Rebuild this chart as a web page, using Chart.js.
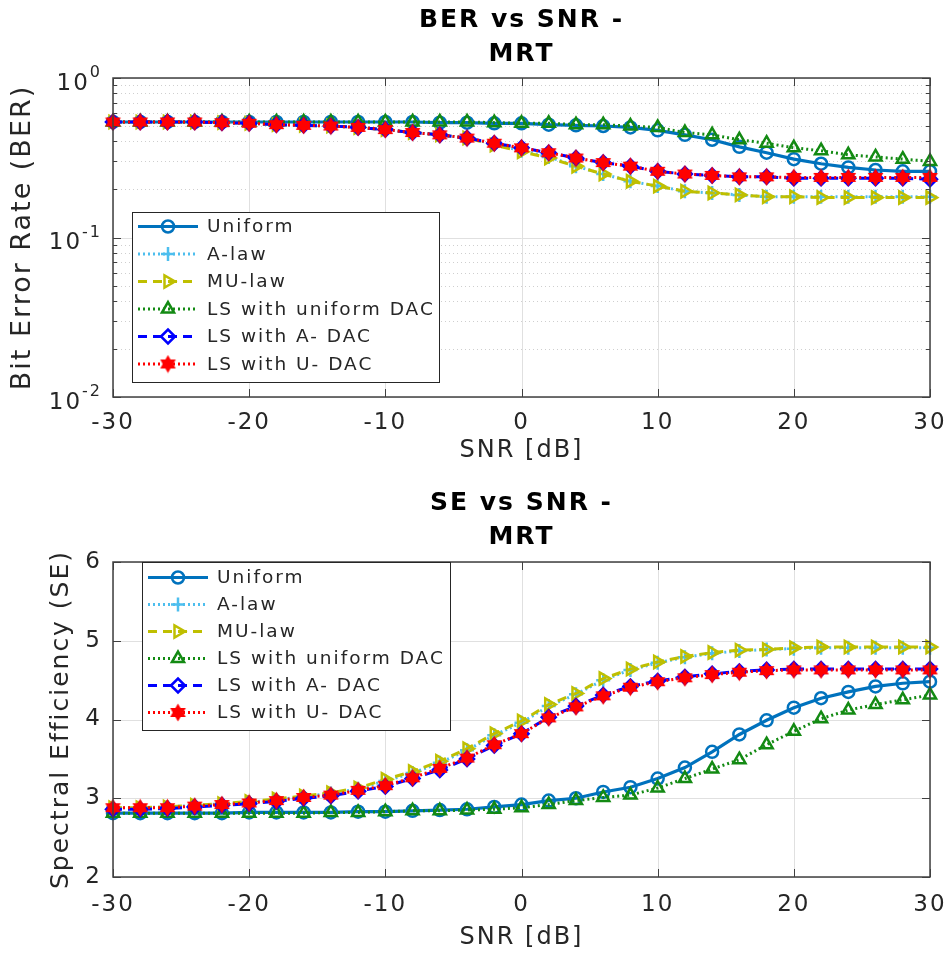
<!DOCTYPE html>
<html>
<head>
<meta charset="utf-8">
<script src="https://cdn.jsdelivr.net/npm/chart.js"></script>
<style>
  html, body { margin: 0; padding: 0; background: #fff; }
  canvas { display: block; }
</style>
</head>
<body>
<canvas id="ber" width="950" height="475"></canvas>
<canvas id="se" width="950" height="478"></canvas>
<script>
// ---- data ----
const snr = [-30,-28,-26,-24,-22,-20,-18,-16,-14,-12,-10,-8,-6,-4,-2,0,2,4,6,8,10,12,14,16,18,20,22,24,26,28,30];
const seriesNames = ['Uniform', 'A-law', 'MU-law', 'LS with uniform DAC', 'LS with A- DAC', 'LS with U- DAC'];

// BER vs SNR
const berUniform   = [0.53,0.53,0.53,0.53,0.53,0.53,0.53,0.53,0.53,0.53,0.53,0.53,0.525,0.525,0.52,0.52,0.51,0.505,0.50,0.49,0.47,0.44,0.41,0.37,0.34,0.31,0.29,0.275,0.265,0.26,0.26];
const berALaw      = [0.53,0.53,0.53,0.53,0.525,0.52,0.51,0.505,0.50,0.49,0.475,0.455,0.44,0.42,0.385,0.35,0.32,0.28,0.25,0.225,0.21,0.195,0.19,0.185,0.18,0.18,0.18,0.18,0.18,0.18,0.18];
const berMuLaw     = [0.53,0.53,0.53,0.53,0.525,0.52,0.51,0.505,0.50,0.49,0.475,0.455,0.44,0.42,0.38,0.345,0.315,0.28,0.25,0.225,0.21,0.195,0.19,0.185,0.18,0.18,0.178,0.178,0.178,0.178,0.178];
const berLsUniform = [0.53,0.53,0.53,0.53,0.53,0.53,0.53,0.53,0.53,0.53,0.53,0.53,0.53,0.53,0.525,0.52,0.52,0.51,0.51,0.50,0.49,0.455,0.44,0.41,0.39,0.365,0.35,0.33,0.32,0.31,0.30];
const berLsA       = [0.53,0.53,0.53,0.53,0.525,0.52,0.51,0.505,0.50,0.49,0.475,0.455,0.44,0.42,0.39,0.365,0.34,0.315,0.295,0.28,0.26,0.25,0.245,0.24,0.24,0.235,0.235,0.235,0.235,0.235,0.232];
const berLsU       = [0.53,0.53,0.53,0.53,0.525,0.52,0.51,0.505,0.50,0.49,0.475,0.455,0.44,0.42,0.39,0.365,0.34,0.315,0.295,0.28,0.26,0.25,0.245,0.24,0.24,0.238,0.238,0.238,0.238,0.238,0.238];

// SE vs SNR
const seUniform   = [2.81,2.81,2.81,2.81,2.81,2.82,2.82,2.82,2.82,2.83,2.83,2.84,2.85,2.86,2.89,2.92,2.97,3.00,3.08,3.14,3.25,3.39,3.59,3.81,3.99,4.15,4.27,4.35,4.42,4.46,4.48];
const seALaw      = [2.88,2.88,2.89,2.91,2.93,2.95,2.98,3.02,3.06,3.12,3.22,3.32,3.45,3.61,3.80,3.96,4.17,4.32,4.50,4.63,4.72,4.79,4.84,4.87,4.89,4.90,4.91,4.91,4.91,4.91,4.91];
const seMuLaw     = [2.88,2.88,2.89,2.91,2.93,2.96,2.99,3.03,3.07,3.13,3.24,3.34,3.47,3.63,3.82,3.98,4.19,4.33,4.52,4.64,4.73,4.80,4.85,4.88,4.89,4.91,4.92,4.92,4.92,4.92,4.92];
const seLsUniform = [2.81,2.81,2.81,2.81,2.81,2.81,2.81,2.81,2.82,2.82,2.83,2.84,2.84,2.85,2.86,2.88,2.92,2.97,3.01,3.04,3.13,3.25,3.37,3.49,3.68,3.85,4.01,4.12,4.19,4.25,4.31];
const seLsA       = [2.86,2.86,2.87,2.89,2.91,2.93,2.96,3.00,3.03,3.09,3.15,3.25,3.36,3.50,3.67,3.82,4.03,4.17,4.31,4.42,4.49,4.54,4.58,4.61,4.63,4.64,4.64,4.64,4.64,4.64,4.64];
const seLsU       = [2.88,2.88,2.88,2.90,2.92,2.94,2.97,3.01,3.04,3.10,3.16,3.26,3.38,3.51,3.68,3.82,4.02,4.16,4.30,4.41,4.48,4.53,4.57,4.60,4.62,4.63,4.63,4.63,4.63,4.63,4.63];

// ticks
const xTicks = [-30, -20, -10, 0, 10, 20, 30];
const berTicks = [0.01, 0.1, 1];
const berTickExp = ['-2', '-1', '0'];
const seTicks = [2, 3, 4, 5, 6];

// ---- styles ----
const FONT = '"DejaVu Sans", sans-serif';
const TXT = '#262626';

function makeHexagram(color, r) {
    const s = Math.ceil(r * 2 + 4);
    const c = document.createElement('canvas');
    c.width = s; c.height = s;
    const g = c.getContext('2d');
    g.translate(s / 2, s / 2);
    g.fillStyle = color;
    g.strokeStyle = color;
    g.lineWidth = 1.5;
    [-Math.PI / 2, Math.PI / 2].forEach(a0 => {
        g.beginPath();
        for (let k = 0; k < 3; k++) {
            const a = a0 + k * 2 * Math.PI / 3;
            g.lineTo(r * Math.cos(a), r * Math.sin(a));
        }
        g.closePath();
        g.fill();
        g.stroke();
    });
    return c;
}

const lineStyles = [
    { color: '#0072bd', dash: [],     width: 3.2, point: 'circle',   rot: 0,  r: 6, fill: 'rgba(0,0,0,0)' },
    { color: '#4dbeee', dash: [2, 3], width: 3,   point: 'cross',    rot: 0,  r: 7, fill: 'rgba(0,0,0,0)' },
    { color: '#bfbf00', dash: [9, 6], width: 3,   point: 'triangle', rot: 90, r: 7, fill: 'rgba(0,0,0,0)' },
    { color: '#138a13', dash: [2, 3], width: 3,   point: 'triangle', rot: 0,  r: 7, fill: 'rgba(0,0,0,0)' },
    { color: '#0000ff', dash: [9, 6], width: 3,   point: 'rectRot',  rot: 0,  r: 7, fill: 'rgba(0,0,0,0)' },
    { color: '#ff0000', dash: [2, 3], width: 3,   point: makeHexagram('#ff0000', 7.5), rot: 0, r: 7, fill: '#ff0000' }
];

function makeDatasets(seriesList) {
    return seriesList.map((vals, i) => {
        const st = lineStyles[i];
        return {
            label: seriesNames[i],
            data: snr.map((x, k) => ({ x: x, y: vals[k] })),
            borderColor: st.color,
            borderWidth: st.width,
            borderDash: st.dash,
            pointStyle: st.point,
            pointRotation: st.rot,
            pointRadius: st.r,
            pointBorderColor: st.color,
            pointBackgroundColor: st.fill,
            pointBorderWidth: 2.5,
            fill: false,
            tension: 0,
            clip: false,
            order: seriesList.length - i
        };
    });
}

function hline(ctx, x1, x2, y) { ctx.beginPath(); ctx.moveTo(x1, y); ctx.lineTo(x2, y); ctx.stroke(); }
function vline(ctx, x, y1, y2) { ctx.beginPath(); ctx.moveTo(x, y1); ctx.lineTo(x, y2); ctx.stroke(); }

// grid, box, inward ticks and boxed legend, MATLAB style
const matlabAxes = {
    id: 'matlabAxes',
    beforeUpdate(chart) { chart.ctx.letterSpacing = '2px'; },
    beforeDraw(chart) { chart.ctx.letterSpacing = '2px'; },
    beforeDatasetsDraw(chart, args, o) {
        const { ctx, chartArea: a, scales: { x, y } } = chart;
        ctx.save();
        ctx.lineWidth = 1;
        if (o.log) {
            ctx.strokeStyle = '#cfcfcf';
            ctx.setLineDash([1, 3]);
            for (let d = -2; d < 0; d++) {
                for (let m = 2; m <= 9; m++) {
                    hline(ctx, a.left, a.right, Math.round(y.getPixelForValue(m * Math.pow(10, d))) + 0.5);
                }
            }
            ctx.setLineDash([]);
        }
        ctx.strokeStyle = '#e0e0e0';
        xTicks.forEach(v => vline(ctx, Math.round(x.getPixelForValue(v)) + 0.5, a.top, a.bottom));
        (o.log ? berTicks : seTicks).forEach(v => hline(ctx, a.left, a.right, Math.round(y.getPixelForValue(v)) + 0.5));
        ctx.restore();
    },
    afterDatasetsDraw(chart, args, o) {
        const { ctx, chartArea: a, scales: { x, y } } = chart;
        ctx.save();
        ctx.strokeStyle = '#404040';
        ctx.lineWidth = 1;
        xTicks.forEach(v => {
            const px = Math.round(x.getPixelForValue(v)) + 0.5;
            vline(ctx, px, a.bottom, a.bottom - 8);
            vline(ctx, px, a.top, a.top + 8);
        });
        (o.log ? berTicks : seTicks).forEach(v => {
            const py = Math.round(y.getPixelForValue(v)) + 0.5;
            hline(ctx, a.left, a.left + 8, py);
            hline(ctx, a.right, a.right - 8, py);
        });
        if (o.log) {
            for (let d = -2; d < 0; d++) {
                for (let m = 2; m <= 9; m++) {
                    const py = Math.round(y.getPixelForValue(m * Math.pow(10, d))) + 0.5;
                    hline(ctx, a.left, a.left + 4, py);
                    hline(ctx, a.right, a.right - 4, py);
                }
            }
        }
        ctx.lineWidth = 1.5;
        ctx.strokeRect(a.left, a.top, a.right - a.left, a.bottom - a.top);

        // legend
        const L = o.legend;
        ctx.fillStyle = '#fff';
        ctx.fillRect(L.x, L.y, L.w, L.h);
        ctx.lineWidth = 1;
        ctx.strokeStyle = '#262626';
        ctx.strokeRect(L.x + 0.5, L.y + 0.5, L.w, L.h);
        chart.data.datasets.forEach((ds, i) => {
            const cy = L.y + L.first + i * L.rowH;
            ctx.strokeStyle = ds.borderColor;
            ctx.lineWidth = ds.borderWidth;
            ctx.setLineDash(ds.borderDash);
            hline(ctx, L.x + 6, L.x + 66, cy);
            ctx.setLineDash([]);
            ctx.fillStyle = ds.pointBackgroundColor;
            ctx.strokeStyle = ds.pointBorderColor;
            ctx.lineWidth = ds.pointBorderWidth;
            Chart.helpers.drawPoint(ctx, {
                pointStyle: ds.pointStyle,
                rotation: ds.pointRotation,
                radius: ds.pointRadius,
                borderWidth: ds.pointBorderWidth
            }, L.x + 36, cy);
            ctx.fillStyle = TXT;
            ctx.font = '18.5px ' + FONT;
            ctx.textAlign = 'left';
            ctx.textBaseline = 'middle';
            ctx.fillText(ds.label, L.x + 75, cy + 1);
        });
        ctx.restore();
    },
    afterDraw(chart, args, o) {
        if (!o.log) return;
        const { ctx, chartArea: a, scales: { y } } = chart;
        ctx.save();
        ctx.fillStyle = TXT;
        ctx.textAlign = 'right';
        ctx.textBaseline = 'middle';
        berTicks.forEach((v, i) => {
            const py = y.getPixelForValue(v);
            ctx.font = '16px ' + FONT;
            const ew = ctx.measureText(berTickExp[i]).width;
            ctx.fillText(berTickExp[i], a.left - 11, py - 5);
            ctx.font = '23px ' + FONT;
            ctx.fillText('10', a.left - 11 - ew, py + 6);
        });
        ctx.restore();
    }
};

function buildChart(id, cfg) {
    const canvas = document.getElementById(id);
    return new Chart(canvas.getContext('2d'), {
        type: 'line',
        data: { datasets: makeDatasets(cfg.series) },
        plugins: [matlabAxes],
        options: {
            responsive: false,
            animation: false,
            events: [],
            layout: { padding: { left: 0, right: 20, top: 0, bottom: 0 } },
            plugins: {
                legend: { display: false },
                tooltip: { enabled: false },
                title: {
                    display: true,
                    text: cfg.title,
                    fullSize: false,
                    color: '#000',
                    font: { family: FONT, size: 25, weight: 'bold', lineHeight: 1.36 },
                    padding: cfg.titlePad
                },
                matlabAxes: { log: cfg.log, legend: cfg.legend }
            },
            scales: {
                x: {
                    type: 'linear',
                    min: -30,
                    max: 30,
                    afterBuildTicks: s => { s.ticks = xTicks.map(v => ({ value: v })); },
                    afterFit: s => { s.height = cfg.xHeight; s.paddingLeft = 0; s.paddingRight = 0; },
                    grid: { display: false, drawTicks: false },
                    border: { display: false },
                    ticks: { color: TXT, font: { family: FONT, size: 23 }, padding: cfg.xTickPad, autoSkip: false, maxRotation: 0 },
                    title: { display: true, text: 'SNR [dB]', color: TXT, font: { family: FONT, size: 24 }, padding: { top: 0, bottom: cfg.xTitlePad } }
                },
                y: cfg.log ? {
                    type: 'logarithmic',
                    min: 0.01,
                    max: 1,
                    afterBuildTicks: s => { s.ticks = berTicks.map(v => ({ value: v })); },
                    afterFit: s => { s.width = 113; },
                    grid: { display: false, drawTicks: false },
                    border: { display: false },
                    ticks: { callback: () => '' },
                    title: { display: true, text: cfg.yTitle, color: TXT, font: { family: FONT, size: cfg.yTitleSize }, padding: { top: cfg.yTitlePad, bottom: 0 } }
                } : {
                    type: 'linear',
                    min: 2,
                    max: 6,
                    afterBuildTicks: s => { s.ticks = seTicks.map(v => ({ value: v })); },
                    afterFit: s => { s.width = 113; },
                    grid: { display: false, drawTicks: false },
                    border: { display: false },
                    ticks: { color: TXT, font: { family: FONT, size: 23 }, padding: 11 },
                    title: { display: true, text: cfg.yTitle, color: TXT, font: { family: FONT, size: cfg.yTitleSize }, padding: { top: cfg.yTitlePad, bottom: 0 } }
                }
            }
        }
    });
}

buildChart('ber', {
    series: [berUniform, berALaw, berMuLaw, berLsUniform, berLsA, berLsU],
    title: ['BER vs SNR -', 'MRT'],
    titlePad: { top: 3, bottom: 7 },
    log: true,
    yTitle: 'Bit Error Rate (BER)',
    yTitleSize: 27,
    yTitlePad: 7,
    xHeight: 78,
    xTickPad: 12,
    xTitlePad: 10,
    legend: { x: 132, y: 212, w: 307, h: 170, first: 14.5, rowH: 27.5 }
});

buildChart('se', {
    series: [seUniform, seALaw, seMuLaw, seLsUniform, seLsA, seLsU],
    title: ['SE vs SNR -', 'MRT'],
    titlePad: { top: 11, bottom: 8 },
    log: false,
    yTitle: 'Spectral Efficiency (SE)',
    yTitleSize: 25,
    yTitlePad: 46,
    xHeight: 76,
    xTickPad: 14,
    xTitlePad: 1,
    legend: { x: 142, y: 87, w: 308, h: 168, first: 15.5, rowH: 27 }
});
</script>
</body>
</html>
